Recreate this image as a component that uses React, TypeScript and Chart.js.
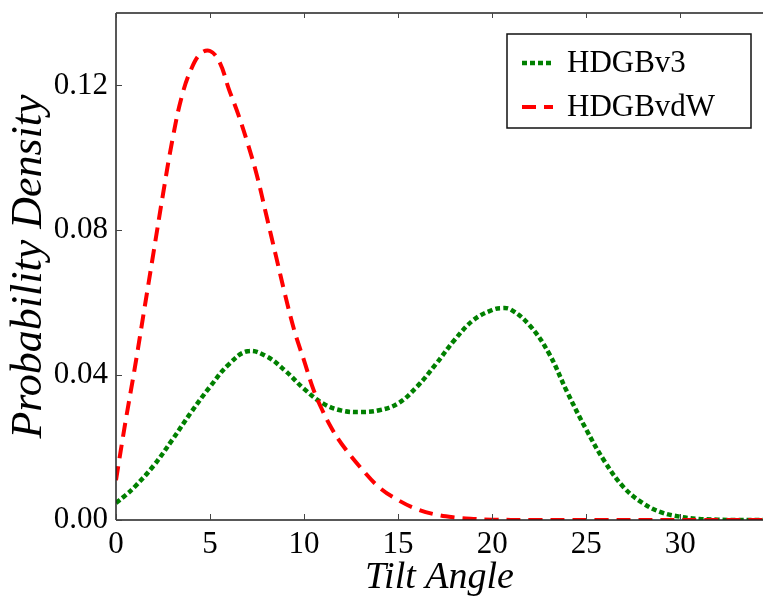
import React, { useEffect, useRef } from "react";
import { Chart, registerables } from "chart.js";

Chart.register(...registerables);

const seriesNames = ["HDGBv3", "HDGBvdW"];

const v3X = [0, 0.5, 1, 2, 3, 4, 5, 6, 7, 8, 9, 10, 11, 12, 13, 14, 15, 16, 17, 18, 19, 20, 20.5, 21, 22, 23, 24, 25, 26, 27, 28, 29, 30, 31, 32, 33, 35];
const v3Y = [0.0047, 0.0068, 0.0092, 0.0150, 0.0222, 0.0298, 0.0368, 0.0430, 0.0466, 0.0452, 0.0412, 0.0362, 0.0322, 0.0302, 0.0298, 0.0303, 0.0322, 0.0368, 0.0430, 0.0497, 0.0552, 0.0580, 0.0585, 0.0581, 0.0537, 0.0462, 0.0352, 0.0250, 0.0160, 0.0090, 0.0047, 0.0021, 0.0009, 0.0003, 0.0001, 0, 0];

const vdwX = [0, 0.5, 1, 1.5, 2, 2.5, 3, 3.5, 4, 4.5, 5, 5.5, 6, 6.5, 7, 7.5, 8, 8.5, 9, 9.5, 10, 10.5, 11, 11.5, 12, 13, 14, 15, 16, 17, 18, 19, 20, 22, 35];
const vdwY = [0.011, 0.027, 0.042, 0.058, 0.074, 0.090, 0.105, 0.117, 0.1245, 0.1288, 0.1295, 0.1265, 0.119, 0.112, 0.104, 0.095, 0.084, 0.073, 0.062, 0.052, 0.044, 0.036, 0.030, 0.025, 0.021, 0.0145, 0.009, 0.0055, 0.003, 0.0015, 0.0007, 0.0003, 0.0001, 0, 0];

const xTicks = [0, 5, 10, 15, 20, 25, 30];
const yTicks = [0, 0.04, 0.08, 0.12];

const FONT = "'Liberation Serif', 'Times New Roman', serif";

const framePlugin = {
  id: "frame",
  afterDraw(chart: any) {
    const { ctx, chartArea } = chart;
    const { left, right, top, bottom } = chartArea;
    const xs = chart.scales.x;
    const ys = chart.scales.y;
    ctx.save();
    ctx.strokeStyle = "#222";
    ctx.lineWidth = 1.5;
    ctx.beginPath();
    ctx.moveTo(left, top);
    ctx.lineTo(right, top);
    ctx.moveTo(left, top);
    ctx.lineTo(left, bottom);
    ctx.moveTo(left, bottom);
    ctx.lineTo(right, bottom);
    ctx.stroke();
    ctx.lineWidth = 1;
    ctx.strokeStyle = "#444";
    ctx.beginPath();
    xs.ticks.forEach((t: any) => {
      const px = Math.round(xs.getPixelForValue(t.value)) + 0.5;
      ctx.moveTo(px, bottom);
      ctx.lineTo(px, bottom - 6);
      ctx.moveTo(px, top);
      ctx.lineTo(px, top + 5);
    });
    ys.ticks.forEach((t: any) => {
      const py = Math.round(ys.getPixelForValue(t.value)) + 0.5;
      ctx.moveTo(left, py);
      ctx.lineTo(left + 6, py);
    });
    ctx.stroke();

    // legend
    const boxR = right - 12;
    const boxL = boxR - 244;
    const boxT = top + 21;
    const boxB = boxT + 94;
    ctx.fillStyle = "#fff";
    ctx.fillRect(boxL, boxT, boxR - boxL, boxB - boxT);
    ctx.strokeStyle = "#111";
    ctx.lineWidth = 1.5;
    ctx.strokeRect(boxL, boxT, boxR - boxL, boxB - boxT);
    ctx.font = "31px " + FONT;
    ctx.textBaseline = "middle";
    ctx.textAlign = "left";
    chart.data.datasets.forEach((ds: any, i: number) => {
      const cy = boxT + 29 + i * 44;
      ctx.save();
      ctx.strokeStyle = ds.borderColor;
      ctx.lineWidth = ds.borderWidth;
      ctx.setLineDash(ds.borderDash || []);
      ctx.beginPath();
      ctx.moveTo(boxL + 15, cy);
      ctx.lineTo(boxL + 46, cy);
      ctx.stroke();
      ctx.restore();
      ctx.fillStyle = "#000";
      ctx.fillText(ds.label, boxL + 60, cy + 1);
    });
    ctx.restore();
  },
};

export default function App() {
  const ref = useRef<HTMLCanvasElement>(null);
  useEffect(() => {
    if (!ref.current) return;
    const chart = new Chart(ref.current, {
      type: "line",
      data: {
        datasets: [
          {
            label: seriesNames[0],
            data: v3X.map((x, i) => ({ x, y: v3Y[i] })),
            borderColor: "#008000",
            borderWidth: 4.5,
            borderDash: [5, 3],
            pointRadius: 0,
            fill: false,
            tension: 0.4,
            order: 1,
          },
          {
            label: seriesNames[1],
            data: vdwX.map((x, i) => ({ x, y: vdwY[i] })),
            borderColor: "#ff0000",
            borderWidth: 4,
            borderDash: [14, 8],
            pointRadius: 0,
            fill: false,
            tension: 0.4,
            order: 0,
          },
        ],
      },
      options: {
        responsive: false,
        animation: false,
        layout: { padding: { top: 13, right: 0, left: 0, bottom: 0 } },
        plugins: { legend: { display: false }, tooltip: { enabled: false } },
        scales: {
          x: {
            type: "linear",
            min: 0,
            max: 34.4,
            afterFit: (s: any) => {
              s.height = 81;
              s.paddingLeft = 0;
              s.paddingRight = 0;
            },
            afterBuildTicks: (s: any) => {
              s.ticks = xTicks.map((v) => ({ value: v }));
            },
            grid: { display: false, drawTicks: false },
            border: { display: false },
            ticks: {
              padding: 6,
              color: "#000",
              font: { family: FONT, size: 31 },
              callback: (v: any) => String(v),
              maxRotation: 0,
            },
            title: {
              display: true,
              text: "Tilt Angle",
              color: "#000",
              font: { family: FONT, size: 38, style: "italic" },
              padding: { top: 0, bottom: 0 },
            },
          },
          y: {
            type: "linear",
            min: 0,
            max: 0.14,
            afterFit: (s: any) => {
              s.width = 116;
              s.paddingTop = 0;
              s.paddingBottom = 0;
            },
            afterBuildTicks: (s: any) => {
              s.ticks = yTicks.map((v) => ({ value: v }));
            },
            grid: { display: false, drawTicks: false },
            border: { display: false },
            ticks: {
              padding: 8,
              color: "#000",
              font: { family: FONT, size: 31 },
              callback: (v: any) => Number(v).toFixed(2),
            },
            title: {
              display: true,
              text: "Probability Density",
              color: "#000",
              font: { family: FONT, size: 44, style: "italic" },
              padding: { top: 3, bottom: 0 },
            },
          },
        },
      },
      plugins: [framePlugin],
    } as any);
    return () => chart.destroy();
  }, []);
  return (
    <div style={{ position: "fixed", left: 0, top: 0, width: 763, height: 601, background: "#fff" }}>
      <canvas ref={ref} width={763} height={601} style={{ display: "block" }} />
    </div>
  );
}
